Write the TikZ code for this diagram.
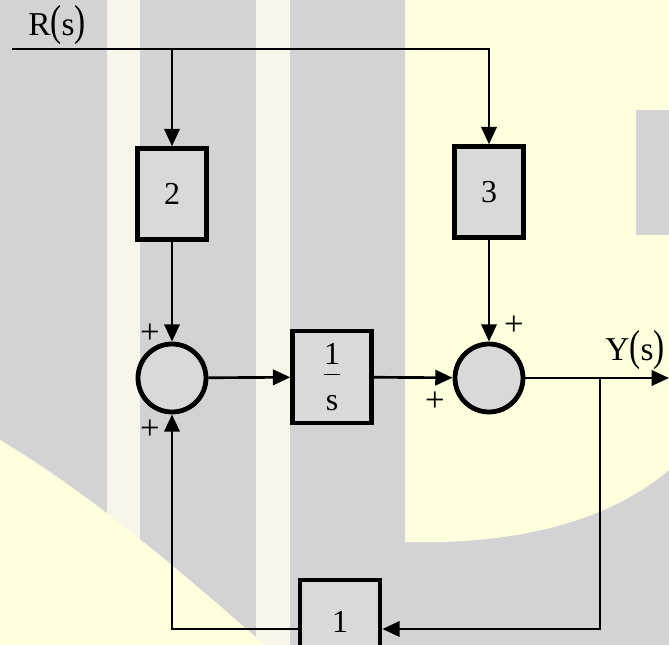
\documentclass[tikz,border=0pt]{standalone}
\usepackage{fontspec}
\setmainfont{Liberation Serif}
\usetikzlibrary{arrows.meta, calc}
\definecolor{bggray}{RGB}{211, 211, 213}
\definecolor{bgyellow}{RGB}{255, 255, 222}
\definecolor{bgstripe}{RGB}{247, 246, 232}
\definecolor{blockgray}{RGB}{217, 217, 217}
\tikzstyle{block} = [rectangle, draw=black, fill=blockgray, line width=3.6pt,
                     font=\fontsize{24pt}{28pt}\selectfont, inner sep=0pt]
\tikzstyle{sumnode} = [circle, draw=black, fill=blockgray, line width=3.6pt,
                       minimum size=51pt, inner sep=0pt]
\tikzstyle{sign} = [font=\fontsize{26pt}{28pt}\selectfont, inner sep=0pt]
\tikzstyle{signal} = [font=\fontsize{25pt}{28pt}\selectfont, inner sep=0pt]
\tikzstyle{arrow} = [-{Triangle[length=13pt, width=11.5pt]}, line width=2pt]
\tikzstyle{line} = [line width=2pt]
\newcommand{\tallparen}[1]{\scalebox{1}[1.3]{#1}}

\begin{document}
\begin{tikzpicture}[x=0.75pt, y=-0.75pt]

\useasboundingbox (0,0) rectangle (669,645);
\clip (0,0) rectangle (669,645);

% Watermark background
\fill[bggray] (0,0) rectangle (669,645);
\fill[bgstripe] (107,0) rectangle (140,645);
\fill[bgstripe] (256,0) rectangle (290,645);
\fill[bgyellow] (405,0) -- (669,0) -- (669,470)
    .. controls (610,520) and (520,545) .. (405,542) -- cycle;
\fill[bgyellow] (0,440) .. controls (100,500) and (190,580) .. (265,645) -- (0,645) -- cycle;
\fill[bggray] (636,110) rectangle (669,235);

% Blocks
\node[block, minimum width=52pt, minimum height=68pt] (gain2) at (172,194) {2};
\node[block, minimum width=52pt, minimum height=68pt] (gain3) at (489,192) {3};
\node[block, minimum width=59pt, minimum height=69pt, align=center] (integ) at (332,377)
    {1\\[-20pt]\rule{12pt}{0.8pt}\\[-2pt]s};
\node[block, minimum width=60pt, minimum height=63pt] (gain1) at (340,622) {1};

% Summing points
\node[sumnode] (sum1) at (172,378) {};
\node[sumnode] (sum2) at (489,378) {};

% Signs
\node[sign] (p1) at (150,334) {+};
\node[sign] (p2) at (150,430) {+};
\node[sign] (p3) at (435,402) {+};
\node[sign] (p4) at (514,326) {+};

% Signals
\node[signal] (rlab) at (57,25) {R\tallparen{(}s\tallparen{)}};
\node[signal] (ylab) at (635,350) {Y\tallparen{(}s\tallparen{)}};
\coordinate (rin) at (12,49);
\coordinate (rsplit) at (172,49);
\coordinate (yout) at (669,378);
\coordinate (ysplit) at (600,378);
\coordinate (fback) at (600,629);

% Arrows
\draw[line] (rin) -- (rsplit);
\draw[arrow] (rsplit) -| (gain3.north);
\draw[arrow] (rsplit) -- (gain2.north);
\draw[arrow] (gain2) -- (sum1);
\draw[arrow] (gain3) -- (sum2);
\draw[arrow] (sum1) -- (integ);
\draw[arrow] (integ) -- (sum2);
\draw[arrow] (sum2) -- (yout);
\draw[arrow] (ysplit) |- (fback -| gain1.east);
\draw[arrow] (gain1.west |- fback) -| (sum1.south);

\end{tikzpicture}
\end{document}
